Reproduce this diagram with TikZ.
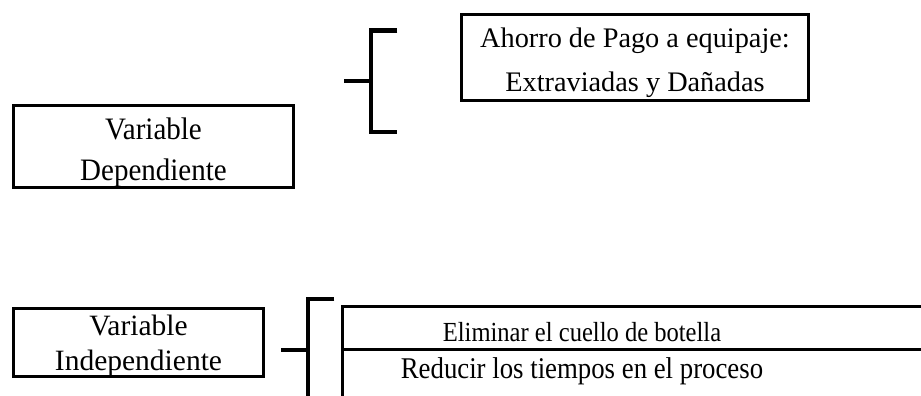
\documentclass[tikz,border=0pt]{standalone}
\usepackage{fontspec}
\setmainfont{Liberation Serif}
\newfontfamily\depfont[FakeStretch=0.93]{Liberation Serif}
\newfontfamily\cellfont[FakeStretch=0.89]{Liberation Serif}

\begin{document}
\begin{tikzpicture}[x=1pt, y=-1pt, box/.style={draw, line width=3pt, outer sep=0pt, inner xsep=0pt, inner ysep=0pt, align=center, anchor=north west}, cell/.style={inner sep=0pt, anchor=base}, brace/.style={line width=4.3pt}, rule/.style={line width=3pt}]
    \clip (0,0) rectangle (921,396);

    % variable dependiente
    \node[box, minimum width=280pt, minimum height=82pt, text height=74.5pt, text depth=7.5pt, font=\depfont\fontsize{31.2pt}{41pt}\selectfont] (dep) at (13.5,105.5) {Variable\\Dependiente};
    \node[box, minimum width=347pt, minimum height=86pt, text height=77.5pt, text depth=8.5pt, font=\fontsize{28.3pt}{44pt}\selectfont] (ahorro) at (461.5,14.5) {Ahorro de Pago a equipaje:\\Extraviadas y Dañadas};

    \coordinate (dtop) at (397.3,30.5);
    \coordinate (dbot) at (397.3,132);
    \coordinate (dstub) at (344,81);
    \draw[brace] (dtop) -- (370.7,30.5) -- (370.7,132) -- (dbot);
    \draw[brace] (dstub) -- (368.7,81);

    % variable independiente
    \node[box, minimum width=250pt, minimum height=68pt, text height=61.5pt, text depth=6.5pt, font=\fontsize{29.5pt}{35pt}\selectfont] (indep) at (13.5,308.5) {Variable\\Independiente};

    \coordinate (itop) at (334.3,299);
    \coordinate (istub) at (281,350);
    \draw[brace] (itop) -- (308,299) -- (308,400);
    \draw[brace] (istub) -- (306,350);

    \node[cell, font=\cellfont\fontsize{27.6pt}{32pt}\selectfont] (elim) at (582,341.7) {Eliminar el cuello de botella};
    \node[cell, font=\cellfont\fontsize{30.1pt}{36pt}\selectfont] (reduc) at (582,378) {Reducir los tiempos en el proceso};
    \draw[rule] (930,306) -- (342.5,306) -- (342.5,400);
    \draw[rule] (342.5,349.5) -- (930,349.5);
    \draw[rule] (342.5,397.3) -- (930,397.3);
  \end{tikzpicture}
\end{document}
